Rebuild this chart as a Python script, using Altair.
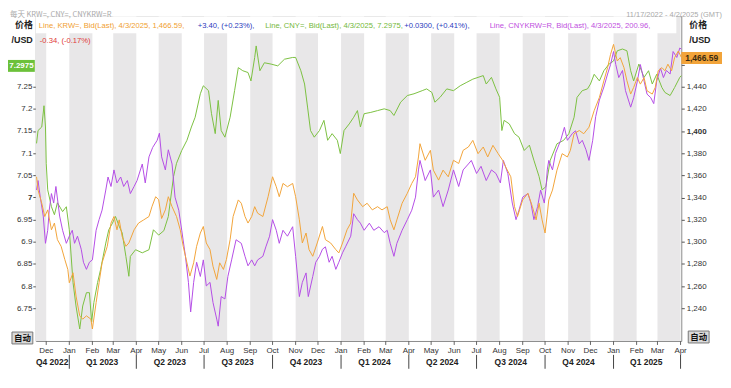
import altair as alt
import pandas as pd

W, H = 650, 327
FONT = "Liberation Sans"
CJK = "Noto Sans CJK SC"
ORANGE = "#f2a43a"
GREEN = "#7cc142"
PURPLE = "#b44ee6"
BAND = "#e8e7e8"

# ---- CNY= (left axis, green)
cny_dates = ["2022-11-18", "2022-11-20", "2022-11-25", "2022-11-28", "2022-11-30", "2022-12-01", "2022-12-03",
             "2022-12-08", "2022-12-12", "2022-12-16", "2022-12-23", "2022-12-28", "2023-01-01", "2023-01-06",
             "2023-01-10", "2023-01-15", "2023-01-19", "2023-01-24", "2023-01-28", "2023-01-31", "2023-02-03",
             "2023-02-08", "2023-02-12", "2023-02-19", "2023-02-23", "2023-02-28", "2023-03-04", "2023-03-09",
             "2023-03-13", "2023-03-18", "2023-03-22", "2023-03-24", "2023-03-31", "2023-04-09", "2023-04-18",
             "2023-04-24", "2023-05-01", "2023-05-08", "2023-05-14", "2023-05-21", "2023-05-25", "2023-06-01",
             "2023-06-08", "2023-06-14", "2023-06-19", "2023-06-26", "2023-06-30", "2023-07-07", "2023-07-11",
             "2023-07-16", "2023-07-20", "2023-07-24", "2023-07-29", "2023-08-05", "2023-08-11", "2023-08-16",
             "2023-08-22", "2023-08-29", "2023-09-02", "2023-09-07", "2023-09-09", "2023-09-14", "2023-09-20",
             "2023-09-29", "2023-10-08", "2023-10-17", "2023-10-28", "2023-11-01", "2023-11-08", "2023-11-13",
             "2023-11-17", "2023-11-21", "2023-11-26", "2023-12-03", "2023-12-09", "2023-12-14", "2023-12-20",
             "2023-12-27", "2023-12-31", "2024-01-05", "2024-01-12", "2024-01-18", "2024-01-23", "2024-01-27",
             "2024-02-01", "2024-02-10", "2024-02-19", "2024-02-28", "2024-03-07", "2024-03-12", "2024-03-21",
             "2024-03-30", "2024-04-08", "2024-04-19", "2024-04-25", "2024-05-02", "2024-05-06", "2024-05-13",
             "2024-05-22", "2024-05-31", "2024-06-09", "2024-06-18", "2024-06-26", "2024-07-03", "2024-07-10",
             "2024-07-14", "2024-07-21", "2024-07-27", "2024-08-01", "2024-08-04", "2024-08-07", "2024-08-14",
             "2024-08-21", "2024-08-27", "2024-09-03", "2024-09-10", "2024-09-16", "2024-09-23", "2024-09-27",
             "2024-10-02", "2024-10-08", "2024-10-17", "2024-10-26", "2024-11-02", "2024-11-09", "2024-11-13",
             "2024-11-20", "2024-11-27", "2024-12-01", "2024-12-06", "2024-12-13", "2024-12-19", "2024-12-26",
             "2025-01-01", "2025-01-06", "2025-01-13", "2025-01-19", "2025-01-24", "2025-01-28", "2025-02-04",
             "2025-02-11", "2025-02-17", "2025-02-22", "2025-02-28", "2025-03-07", "2025-03-11", "2025-03-18",
             "2025-03-24", "2025-03-31", "2025-04-02"]
cny_vals = [7.122, 7.151, 7.159, 7.207, 7.159, 7.077, 7.017,
            6.979, 6.961, 6.988, 6.968, 6.979, 6.927, 6.808,
            6.755, 6.703, 6.755, 6.785, 6.785, 6.719, 6.763,
            6.808, 6.837, 6.897, 6.927, 6.942, 6.957, 6.935,
            6.920, 6.867, 6.822, 6.867, 6.882, 6.875, 6.882,
            6.927, 6.915, 6.925, 6.957, 7.047, 7.077, 7.106,
            7.129, 7.159, 7.181, 7.234, 7.252, 7.241, 7.189,
            7.144, 7.219, 7.151, 7.136, 7.181, 7.241, 7.293,
            7.286, 7.282, 7.263, 7.316, 7.342, 7.286, 7.304,
            7.301, 7.297, 7.312, 7.316, 7.316, 7.286, 7.256,
            7.204, 7.151, 7.136, 7.151, 7.174, 7.129, 7.144,
            7.129, 7.099, 7.151, 7.166, 7.181, 7.196, 7.159,
            7.189, 7.192, 7.196, 7.200, 7.196, 7.185, 7.215,
            7.230, 7.234, 7.241, 7.245, 7.237, 7.215, 7.226,
            7.245, 7.241, 7.252, 7.260, 7.267, 7.271, 7.275,
            7.256, 7.271, 7.245, 7.226, 7.151, 7.174, 7.166,
            7.144, 7.136, 7.106, 7.118, 7.084, 7.047, 7.017,
            7.024, 7.084, 7.121, 7.129, 7.144, 7.181, 7.226,
            7.241, 7.245, 7.256, 7.278, 7.263, 7.286, 7.301,
            7.308, 7.331, 7.335, 7.331, 7.286, 7.263, 7.301,
            7.271, 7.286, 7.256, 7.278, 7.248, 7.237, 7.230,
            7.248, 7.271, 7.275]

# ---- KRW= (right axis, orange)
krw_dates = ["2022-11-18", "2022-11-20", "2022-11-25", "2022-11-29", "2022-12-03", "2022-12-08", "2022-12-12",
             "2022-12-16", "2022-12-21", "2022-12-26", "2022-12-30", "2023-01-01", "2023-01-06", "2023-01-10",
             "2023-01-15", "2023-01-19", "2023-01-24", "2023-01-30", "2023-02-01", "2023-02-06", "2023-02-10",
             "2023-02-14", "2023-02-21", "2023-02-26", "2023-03-02", "2023-03-06", "2023-03-09", "2023-03-13",
             "2023-03-18", "2023-03-22", "2023-03-29", "2023-04-04", "2023-04-11", "2023-04-18", "2023-04-22",
             "2023-04-27", "2023-05-01", "2023-05-05", "2023-05-10", "2023-05-14", "2023-05-19", "2023-05-25",
             "2023-05-30", "2023-06-03", "2023-06-08", "2023-06-12", "2023-06-17", "2023-06-21", "2023-06-26",
             "2023-06-30", "2023-07-04", "2023-07-09", "2023-07-13", "2023-07-18", "2023-07-22", "2023-07-27",
             "2023-07-31", "2023-08-05", "2023-08-09", "2023-08-16", "2023-08-20", "2023-08-25", "2023-08-29",
             "2023-09-03", "2023-09-07", "2023-09-11", "2023-09-18", "2023-09-25", "2023-10-01", "2023-10-06",
             "2023-10-10", "2023-10-15", "2023-10-21", "2023-10-28", "2023-11-01", "2023-11-06", "2023-11-10",
             "2023-11-15", "2023-11-19", "2023-11-24", "2023-11-30", "2023-12-07", "2023-12-11", "2023-12-18",
             "2023-12-25", "2023-12-29", "2024-01-03", "2024-01-09", "2024-01-14", "2024-01-18", "2024-01-23",
             "2024-01-30", "2024-02-05", "2024-02-12", "2024-02-19", "2024-02-25", "2024-03-03", "2024-03-07",
             "2024-03-12", "2024-03-16", "2024-03-23", "2024-03-30", "2024-04-05", "2024-04-10", "2024-04-14",
             "2024-04-16", "2024-04-23", "2024-04-30", "2024-05-04", "2024-05-11", "2024-05-17", "2024-05-24",
             "2024-05-31", "2024-06-07", "2024-06-13", "2024-06-20", "2024-06-26", "2024-07-03", "2024-07-10",
             "2024-07-16", "2024-07-23", "2024-07-30", "2024-08-05", "2024-08-09", "2024-08-16", "2024-08-21",
             "2024-08-25", "2024-09-01", "2024-09-08", "2024-09-14", "2024-09-19", "2024-09-23", "2024-09-27",
             "2024-10-01", "2024-10-04", "2024-10-06", "2024-10-11", "2024-10-17", "2024-10-24", "2024-10-31",
             "2024-11-04", "2024-11-09", "2024-11-16", "2024-11-22", "2024-11-29", "2024-12-06", "2024-12-13",
             "2024-12-19", "2024-12-24", "2024-12-28", "2025-01-01", "2025-01-06", "2025-01-10", "2025-01-15",
             "2025-01-19", "2025-01-24", "2025-01-28", "2025-02-02", "2025-02-06", "2025-02-11", "2025-02-15",
             "2025-02-22", "2025-02-26", "2025-03-02", "2025-03-07", "2025-03-11", "2025-03-15", "2025-03-20",
             "2025-03-24", "2025-03-29", "2025-04-02"]
krw_vals = [1358.7, 1346.7, 1334.8, 1322.8, 1328.8, 1310.8, 1316.9,
            1301.9, 1295.9, 1283.9, 1275.0, 1263.0, 1272.0, 1251.0,
            1233.1, 1230.1, 1233.1, 1230.1, 1221.2, 1245.1, 1263.0,
            1281.0, 1295.9, 1316.9, 1322.8, 1310.8, 1319.8, 1304.8,
            1295.9, 1298.9, 1310.8, 1316.9, 1319.8, 1322.8, 1331.7,
            1340.7, 1338.0, 1321.0, 1328.8, 1340.7, 1331.7, 1322.8,
            1310.8, 1295.9, 1281.0, 1269.0, 1281.0, 1295.9, 1307.9,
            1313.8, 1298.9, 1292.9, 1277.9, 1266.0, 1281.0, 1275.0,
            1283.9, 1301.9, 1322.8, 1337.8, 1334.8, 1322.8, 1316.9,
            1322.8, 1331.7, 1325.8, 1322.8, 1340.7, 1358.7, 1349.7,
            1340.7, 1352.7, 1349.7, 1352.7, 1340.7, 1319.8, 1298.9,
            1307.9, 1292.9, 1286.9, 1298.9, 1313.8, 1301.9, 1298.9,
            1292.9, 1289.9, 1298.9, 1310.8, 1316.9, 1343.8, 1337.8,
            1331.7, 1334.8, 1328.8, 1331.7, 1328.8, 1331.7, 1319.8,
            1310.8, 1319.8, 1334.8, 1343.8, 1352.7, 1358.7, 1376.6,
            1388.6, 1373.6, 1382.6, 1364.7, 1355.7, 1364.7, 1358.7,
            1373.6, 1370.7, 1382.6, 1385.6, 1391.6, 1379.6, 1385.6,
            1376.6, 1387.1, 1379.6, 1373.6, 1367.7, 1358.7, 1331.7,
            1322.8, 1337.8, 1343.8, 1331.7, 1319.8, 1334.8, 1319.8,
            1307.9, 1325.0, 1337.8, 1346.7, 1364.7, 1379.6, 1376.6,
            1382.6, 1397.6, 1400.5, 1397.6, 1403.5, 1418.5, 1430.4,
            1445.4, 1457.3, 1469.3, 1478.3, 1463.3, 1466.3, 1457.3,
            1445.4, 1433.4, 1439.4, 1448.3, 1442.4, 1448.3, 1436.4,
            1433.4, 1439.4, 1454.4, 1457.3, 1454.4, 1460.4, 1454.4,
            1466.3, 1472.3, 1466.6]

# ---- CNYKRW=R (own hidden scale, purple)
cross_dates = ["2022-11-18", "2022-11-20", "2022-11-23", "2022-11-27", "2022-11-30", "2022-12-03", "2022-12-05",
               "2022-12-08", "2022-12-11", "2022-12-14", "2022-12-19", "2022-12-23", "2022-12-28", "2023-01-01",
               "2023-01-05", "2023-01-08", "2023-01-12", "2023-01-17", "2023-01-20", "2023-01-24", "2023-01-28",
               "2023-02-01", "2023-02-06", "2023-02-10", "2023-02-14", "2023-02-19", "2023-02-22", "2023-02-26",
               "2023-03-02", "2023-03-06", "2023-03-11", "2023-03-15", "2023-03-20", "2023-03-24", "2023-03-29",
               "2023-04-02", "2023-04-09", "2023-04-13", "2023-04-18", "2023-04-23", "2023-04-29", "2023-05-02",
               "2023-05-05", "2023-05-10", "2023-05-14", "2023-05-19", "2023-05-23", "2023-05-28", "2023-06-01",
               "2023-06-06", "2023-06-10", "2023-06-13", "2023-06-17", "2023-06-21", "2023-06-26", "2023-06-30",
               "2023-07-04", "2023-07-09", "2023-07-13", "2023-07-18", "2023-07-20", "2023-07-24", "2023-07-29",
               "2023-08-02", "2023-08-07", "2023-08-13", "2023-08-20", "2023-08-25", "2023-08-29", "2023-09-03",
               "2023-09-07", "2023-09-11", "2023-09-18", "2023-09-22", "2023-09-27", "2023-10-01", "2023-10-06",
               "2023-10-10", "2023-10-15", "2023-10-21", "2023-10-28", "2023-11-01", "2023-11-06", "2023-11-10",
               "2023-11-15", "2023-11-18", "2023-11-24", "2023-11-28", "2023-12-03", "2023-12-07", "2023-12-11",
               "2023-12-16", "2023-12-20", "2023-12-25", "2023-12-29", "2024-01-03", "2024-01-07", "2024-01-14",
               "2024-01-18", "2024-01-23", "2024-01-27", "2024-02-01", "2024-02-08", "2024-02-14", "2024-02-21",
               "2024-02-28", "2024-03-03", "2024-03-07", "2024-03-12", "2024-03-16", "2024-03-23", "2024-03-30",
               "2024-04-05", "2024-04-10", "2024-04-14", "2024-04-16", "2024-04-23", "2024-04-30", "2024-05-04",
               "2024-05-11", "2024-05-17", "2024-05-24", "2024-05-31", "2024-06-07", "2024-06-13", "2024-06-20",
               "2024-06-24", "2024-07-01", "2024-07-07", "2024-07-14", "2024-07-21", "2024-07-27", "2024-08-02",
               "2024-08-06", "2024-08-12", "2024-08-18", "2024-08-23", "2024-08-27", "2024-09-01", "2024-09-08",
               "2024-09-12", "2024-09-16", "2024-09-21", "2024-09-25", "2024-09-30", "2024-10-02", "2024-10-04",
               "2024-10-06", "2024-10-11", "2024-10-15", "2024-10-22", "2024-10-27", "2024-10-31", "2024-11-07",
               "2024-11-11", "2024-11-16", "2024-11-20", "2024-11-25", "2024-11-29", "2024-12-04", "2024-12-08",
               "2024-12-13", "2024-12-19", "2024-12-24", "2024-12-28", "2025-01-01", "2025-01-04", "2025-01-08",
               "2025-01-13", "2025-01-17", "2025-01-24", "2025-01-28", "2025-02-02", "2025-02-06", "2025-02-11",
               "2025-02-15", "2025-02-20", "2025-02-24", "2025-02-28", "2025-03-05", "2025-03-09", "2025-03-13",
               "2025-03-18", "2025-03-22", "2025-03-27", "2025-03-31", "2025-04-02"]
cross_vals = [189.0, 189.8, 188.4, 186.8, 184.5, 185.6, 187.3,
              188.7, 187.9, 189.3, 186.8, 185.6, 184.5, 185.1,
              185.6, 184.5, 185.1, 184.0, 182.9, 182.3, 182.9,
              183.1, 185.6, 186.5, 187.3, 189.0, 190.1, 189.3,
              190.7, 189.6, 190.1, 189.3, 189.8, 188.7, 189.3,
              189.8, 191.2, 189.6, 191.8, 192.6, 193.2, 193.8,
              191.8, 190.7, 192.4, 191.2, 188.4, 187.3, 185.6,
              183.4, 181.2, 178.7, 181.2, 182.9, 181.7, 183.1,
              180.9, 181.2, 179.5, 178.1, 177.5, 180.0, 179.8,
              181.7, 183.1, 184.8, 184.5, 183.4, 182.6, 183.1,
              182.6, 183.1, 183.4, 184.2, 185.1, 186.5, 185.6,
              184.5, 185.6, 185.1, 185.9, 183.4, 180.0, 181.2,
              182.0, 180.0, 181.7, 182.9, 183.4, 184.0, 184.2,
              182.9, 183.4, 182.3, 182.9, 183.7, 184.2, 185.1,
              187.0, 186.5, 186.2, 185.6, 186.2, 185.6, 185.9,
              185.4, 185.6, 184.5, 183.4, 184.5, 185.6, 186.5,
              187.3, 188.4, 190.7, 191.5, 189.8, 190.7, 188.4,
              189.0, 187.6, 189.0, 190.7, 189.3, 190.7, 191.2,
              191.5, 190.4, 191.0, 189.8, 190.7, 190.4, 189.6,
              191.5, 190.4, 187.9, 186.5, 187.3, 188.4, 188.7,
              187.9, 186.5, 187.6, 189.0, 187.9, 189.0, 190.7,
              191.5, 190.7, 192.1, 193.2, 194.3, 193.2, 193.8,
              194.0, 192.9, 193.2, 192.4, 191.5, 193.2, 195.2,
              196.6, 197.7, 198.8, 199.6, 200.7, 199.6, 198.5,
              199.1, 197.4, 196.0, 196.8, 198.2, 199.6, 198.2,
              197.1, 196.8, 196.3, 198.2, 199.3, 198.5, 199.1,
              198.8, 200.7, 200.2, 201.0, 200.9]

month_ticks = ["2022-12-01", "2023-01-01", "2023-02-01", "2023-03-01", "2023-04-01", "2023-05-01", "2023-06-01",
               "2023-07-01", "2023-08-01", "2023-09-01", "2023-10-01", "2023-11-01", "2023-12-01", "2024-01-01",
               "2024-02-01", "2024-03-01", "2024-04-01", "2024-05-01", "2024-06-01", "2024-07-01", "2024-08-01",
               "2024-09-01", "2024-10-01", "2024-11-01", "2024-12-01", "2025-01-01", "2025-02-01", "2025-03-01",
               "2025-04-01"]
band_starts = ["2022-11-17", "2023-01-01", "2023-03-01", "2023-05-01", "2023-07-01", "2023-09-01", "2023-11-01",
               "2024-01-01", "2024-03-01", "2024-05-01", "2024-07-01", "2024-09-01", "2024-11-01", "2025-01-01",
               "2025-03-01"]
band_ends = ["2022-12-01", "2023-02-01", "2023-04-01", "2023-06-01", "2023-08-01", "2023-10-01", "2023-12-01",
             "2024-02-01", "2024-04-01", "2024-06-01", "2024-08-01", "2024-10-01", "2024-12-01", "2025-02-01",
             "2025-04-01"]
quarter_labels = ["Q4 2022", "Q1 2023", "Q2 2023", "Q3 2023", "Q4 2023", "Q1 2024", "Q2 2024", "Q3 2024",
                  "Q4 2024", "Q1 2025"]
quarter_centers = ["2022-12-09", "2023-02-14", "2023-05-16", "2023-08-15", "2023-11-15", "2024-02-15",
                   "2024-05-16", "2024-08-16", "2024-11-15", "2025-02-14"]
quarter_bounds = ["2023-01-01", "2023-04-01", "2023-07-01", "2023-10-01", "2024-01-01", "2024-04-01",
                  "2024-07-01", "2024-10-01", "2025-01-01", "2025-04-01"]
left_ticks = [6.75, 6.8, 6.85, 6.9, 6.95, 7.0, 7.05, 7.1, 7.15, 7.2, 7.25]
right_ticks = [1240, 1260, 1280, 1300, 1320, 1340, 1360, 1380, 1400, 1420, 1440, 1460]
left_domain = [6.676, 7.409]
right_domain = [1210.4, 1503.7]
cross_domain = [176.25, 203.68]


def dt(s):
    y, m, d = map(int, s.split("-"))
    return alt.DateTime(year=y, month=m, date=d, utc=True)


x_scale = alt.Scale(type="utc", domain=[dt("2022-11-17"), dt("2025-04-02")])
NOX = dict(scale=x_scale, axis=None)


def one(**kw):
    return pd.DataFrame({k: [v] for k, v in kw.items()})


bands = alt.Chart(pd.DataFrame({"start": band_starts, "end": band_ends})).mark_rect(color=BAND).encode(
    x=alt.X("start:T", **NOX), x2="end:T")

legend_bg = alt.Chart(one(a=1)).mark_rect(color="white").encode(
    x=alt.value(0), x2=alt.value(645), y=alt.value(0), y2=alt.value(17))

green = alt.Chart(pd.DataFrame({"date": cny_dates, "value": cny_vals})).mark_line(
    color=GREEN, strokeWidth=1).encode(
    x=alt.X("date:T", **NOX),
    y=alt.Y("value:Q", scale=alt.Scale(domain=left_domain, nice=False, zero=False),
            axis=alt.Axis(orient="left", values=left_ticks, labelExpr="format(datum.value, '.3~g')",
                          tickSize=3, tickColor="#555",
                          labelFontSize=8, labelFont=FONT, labelColor="#333", labelPadding=1, domain=False,
                          grid=False, title=None,
                          labelFontWeight={"condition": {"test": "datum.value == 7", "value": "bold"},
                                           "value": "normal"})))

purple = alt.Chart(pd.DataFrame({"date": cross_dates, "value": cross_vals})).mark_line(
    color=PURPLE, strokeWidth=1).encode(
    x=alt.X("date:T", **NOX),
    y=alt.Y("value:Q", scale=alt.Scale(domain=cross_domain, nice=False, zero=False), axis=None))

orange = alt.Chart(pd.DataFrame({"date": krw_dates, "value": krw_vals})).mark_line(
    color=ORANGE, strokeWidth=1).encode(
    x=alt.X("date:T", **NOX),
    y=alt.Y("value:Q", scale=alt.Scale(domain=right_domain, nice=False, zero=False),
            axis=alt.Axis(orient="right", values=right_ticks,
                          labelExpr="datum.value == 1460 ? '' : format(datum.value, ',')",
                          tickSize=3, tickColor="#555",
                          labelFontSize=8, labelFont=FONT, labelColor="#333", labelPadding=2, domain=False,
                          grid=False, title=None,
                          labelFontWeight={"condition": {"test": "datum.value == 1400", "value": "bold"},
                                           "value": "normal"})))

months_df = pd.DataFrame({"m": month_ticks})
mticks = alt.Chart(months_df).mark_rule(color="#666", strokeWidth=1).encode(
    x=alt.X("m:T", **NOX), y=alt.value(H), y2=alt.value(H + 4))
mlabels = alt.Chart(months_df).transform_calculate(
    lbl="utcFormat(toDate(datum.m), '%b')").mark_text(
    font=FONT, fontSize=8, color="#333", baseline="middle").encode(
    x=alt.X("m:T", **NOX), y=alt.value(H + 10), text="lbl:N")

quarters = alt.Chart(pd.DataFrame({"c": quarter_centers, "label": quarter_labels})).mark_text(
    font=FONT, fontSize=8.5, fontWeight="bold", color="#222", baseline="middle").encode(
    x=alt.X("c:T", **NOX), y=alt.value(H + 21), text="label:N")

qsep = alt.Chart(pd.DataFrame({"b": quarter_bounds})).mark_rule(color="#444", strokeWidth=1).encode(
    x=alt.X("b:T", **NOX), y=alt.value(H + 14), y2=alt.value(H + 28))


def label(text, x, y, color, size=7.7, weight="normal", align="left", font=FONT):
    return alt.Chart(one(t=text)).mark_text(align=align, baseline="middle", color=color, fontSize=size,
                                            fontWeight=weight, font=font).encode(
        x=alt.value(x), y=alt.value(y), text="t:N")


def box(x1, x2, y1, y2, fill, stroke=None):
    kw = {"fill": fill}
    if stroke:
        kw["stroke"] = stroke
        kw["strokeWidth"] = 1
    return alt.Chart(one(a=1)).mark_rect(**kw).encode(
        x=alt.value(x1), x2=alt.value(x2), y=alt.value(y1), y2=alt.value(y2))


annots = [
    label("每天 KRW=, CNY=, CNYKRW=R", -26, -1, "#aaaaaa", 7.5, font=CJK),
    label("11/17/2022 - 4/2/2025 (GMT)", 691, -1.5, "#aaaaaa", 7.5, align="right"),
    label("价格", -3, 9, "#222", 9, "bold", "right", CJK),
    label("/USD", -3, 24, "#222", 9, "bold", "right"),
    label("价格", 658, 9, "#222", 9, "bold", "left", CJK),
    label("/USD", 658, 24, "#222", 9, "bold", "left"),
    label("Line, KRW=, Bid(Last), 4/3/2025, 1,466.59,", 3, 10, "#f0a030"),
    label("+3.40, (+0.23%),", 163, 10, "#2b3bbd"),
    label("Line, CNY=, Bid(Last), 4/3/2025, 7.2975,", 231, 10, "#74b83a"),
    label("+0.0300, (+0.41%),", 371, 10, "#2b3bbd"),
    label("Line, CNYKRW=R, Bid(Last), 4/3/2025, 200.96,", 457, 10, "#c04fe0"),
    label("-0.34, (-0.17%)", 4, 25, "#e03a3a"),
    box(-28, -1, 44, 56, "#6cc13a"),
    label("7.2975", -14.5, 50, "white", 8, "bold", "center"),
    box(650, 691, 36, 48, "#f2a43a"),
    label("1,466.59", 670.5, 42, "#3a2a10", 8.5, "bold", "center"),
    box(-24, -3, 318, 330, "#d9d9d9", "#777"),
    label("自动", -13.5, 324, "#111", 8.5, "bold", "center", CJK),
    box(657, 678, 317, 329, "#d9d9d9", "#777"),
    label("自动", 667.5, 323, "#111", 8.5, "bold", "center", CJK),
]

chart = alt.layer(bands, legend_bg, green, purple, orange, mticks, mlabels, quarters, qsep,
                  *annots).resolve_scale(y="independent").properties(
    width=W, height=H,
    padding={"left": 28, "top": 7, "right": 42, "bottom": 38},
    autosize=alt.AutoSizeParams(type="none"),
    background="white",
).configure_view(stroke="#8a8a8a", strokeWidth=1)

chart.save("out.html", embed_options={"renderer": "svg", "actions": False})
